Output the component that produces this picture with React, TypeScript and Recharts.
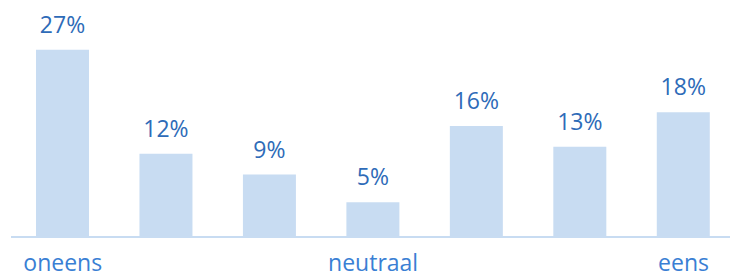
import { BarChart, Bar, XAxis, YAxis, LabelList } from "recharts";

const categories = ["oneens", "", "", "neutraal", "", "", "eens"];
const shares = [27, 12, 9, 5, 16, 13, 18];

const data = categories.map((label, i) => ({ label, share: shares[i] }));

const barColor = "#c8dcf2";
const labelColor = "#2e6bb8";
const tickColor = "#3a7fd4";
const font = "'Open Sans', sans-serif";

export default function App() {
  return (
    <div style={{ position: "absolute", left: 0, top: 0 }}>
      <BarChart
        width={740}
        height={274}
        data={data}
        barCategoryGap={0}
        margin={{ top: 29, right: 4.75, left: 11, bottom: 0 }}
      >
        <XAxis
          dataKey="label"
          interval={0}
          height={37}
          tickLine={false}
          tickMargin={12}
          axisLine={{ stroke: barColor, strokeWidth: 2 }}
          tick={{ fill: tickColor, fontSize: 23, fontFamily: font }}
        />
        <YAxis hide domain={[0, 30]} />
        <Bar dataKey="share" fill={barColor} barSize={53} isAnimationActive={false}>
          <LabelList
            dataKey="share"
            position="top"
            offset={17}
            formatter={(v: number) => `${v}%`}
            style={{ fill: labelColor, fontSize: 23, fontFamily: font }}
          />
        </Bar>
      </BarChart>
    </div>
  );
}
